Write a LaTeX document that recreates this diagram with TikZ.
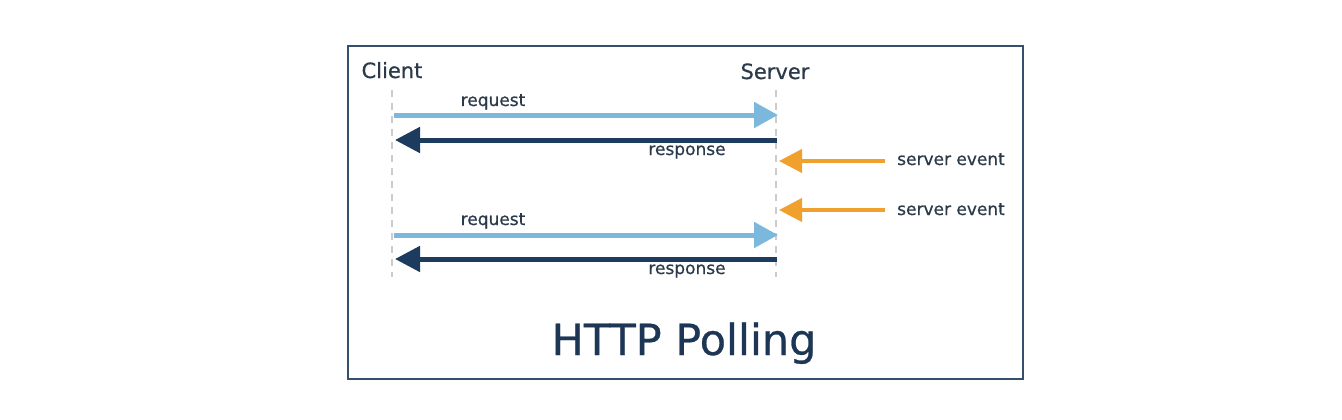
\documentclass[tikz,border=0pt]{standalone}
\usepackage{fontspec}
\setmainfont{DejaVu Sans}[FakeBold=0.6]
\usetikzlibrary{arrows.meta}
\definecolor{reqblue}{HTML}{7CB8DC}
\definecolor{resnavy}{HTML}{1C3B5E}
\definecolor{evorange}{HTML}{F0A02C}
\definecolor{framecol}{HTML}{34506E}
\definecolor{txtcol}{HTML}{2B3A4A}
\definecolor{titlecol}{HTML}{1E3656}
\definecolor{lifegray}{HTML}{CCCCCC}
\tikzset{
  lbl/.style={inner sep=0pt, text=txtcol, font=\fontsize{17}{20}\selectfont},
  head/.style={inner sep=0pt, text=txtcol, font=\fontsize{21}{24}\selectfont},
  lifeline/.style={draw=lifegray, line width=2pt, dash pattern=on 7pt off 6pt},
  reqarrow/.style={draw=reqblue, line width=5pt, -{Triangle[length=24pt,width=25pt]}},
  resarrow/.style={draw=resnavy, line width=5pt, -{Triangle[length=25pt,width=25pt]}},
  evarrow/.style={draw=evorange, line width=4pt, -{Triangle[length=23pt,width=23pt]}},
}
\begin{document}
\begin{tikzpicture}[x=1pt,y=-1pt]
\useasboundingbox (0,0) rectangle (1342,420);
\fill[white] (0,0) rectangle (1342,420);
\draw[framecol, line width=1.5pt] (348,46) rectangle (1023,379);

% headers
\node[head, anchor=base] (client) at (392,78) {Client};
\node[head, anchor=base] (server) at (775,79) {Server};

% lifelines
\coordinate (ctop) at (392,90);
\coordinate (cbot) at (392,277);
\coordinate (stop) at (776,90);
\coordinate (sbot) at (776,277);
\draw[lifeline] (ctop) -- (cbot);
\draw[lifeline] (stop) -- (sbot);

% first round
\coordinate (c1) at (394,115);
\coordinate (s1) at (778,115);
\coordinate (s2) at (777,140);
\coordinate (c2) at (395,140);
\draw[reqarrow] (c1) -- (s1);
\draw[resarrow] (s2) -- (c2);
\node[lbl, anchor=base] (req1) at (493,106) {request};
\node[lbl, anchor=base] (res1) at (687,155) {response};

% server events
\coordinate (e1a) at (885,161);
\coordinate (e1b) at (779,161);
\coordinate (e2a) at (885,210);
\coordinate (e2b) at (779,210);
\draw[evarrow] (e1a) -- (e1b);
\draw[evarrow] (e2a) -- (e2b);
\node[lbl, anchor=base west] (ev1) at (897,165) {server event};
\node[lbl, anchor=base west] (ev2) at (897,215) {server event};

% second round
\coordinate (c3) at (394,235);
\coordinate (s3) at (778,235);
\coordinate (s4) at (777,259);
\coordinate (c4) at (395,259);
\draw[reqarrow] (c3) -- (s3);
\draw[resarrow] (s4) -- (c4);
\node[lbl, anchor=base] (req2) at (493,225) {request};
\node[lbl, anchor=base] (res2) at (687,274) {response};

% title
\node[inner sep=0pt, anchor=base, text=titlecol, font=\fontsize{43}{50}\selectfont] (title) at (684,355) {HTTP Polling};
\end{tikzpicture}
\end{document}
